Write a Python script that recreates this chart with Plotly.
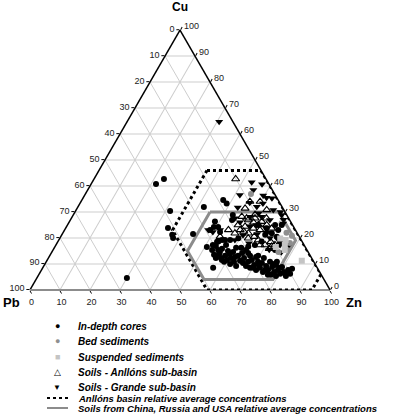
import plotly.graph_objects as go

# ---------------- data (percent of Cu + Pb + Zn) ----------------
# In-depth cores
cores_cu = [42.7, 40.8, 30.4, 23.8, 21.2, 20.0, 21.5, 4.6, 31.9, 8.5, 34.6, 33.3, 26.3,
            24.2, 22.3, 19.2, 18.5, 17.3, 16.5, 23.1, 28.8, 26.9, 24.2, 12.3, 11.5, 15.4,
            25.0, 25.0, 21.8, 23.1, 21.2, 19.2, 19.2, 18.6, 18.6, 15.4, 18.6, 17.3, 16.7,
            19.9, 23.7, 20.5, 25.0, 16.7,
            15.4, 16.9, 13.8, 15.8, 13.1, 15.0, 17.3, 12.3, 14.6, 16.2, 13.1, 11.2, 14.2,
            12.3, 15.4, 10.8, 13.1, 11.5, 9.6, 12.7, 10.8, 8.5, 10.4, 12.3, 9.2, 7.7, 10.8,
            8.8, 6.9, 9.6, 7.7, 6.2, 8.8, 6.9, 5.4, 7.7, 6.2, 6.5, 10.0, 10.8, 9.2, 8.5,
            6.9, 5.8, 9.2, 7.7, 16.2, 10.8, 12.3, 10.8,
            13.5, 11.5, 12.7, 10.4, 8.5, 9.6, 7.7, 10.0, 8.5, 5.4, 5.8, 13.8, 14.2, 13.1,
            14.6, 8.1]
cores_zn = [23.3, 21.6, 31.5, 34.1, 36.8, 37.7, 43.6, 30.0, 42.0, 56.8, 47.1, 48.9, 48.5,
            50.6, 52.2, 54.4, 53.1, 52.3, 50.7, 48.5, 53.2, 53.9, 49.2, 55.8, 58.2, 55.0,
            63.6, 69.2, 69.7, 71.2, 67.8, 57.1, 55.4, 53.5, 74.0, 74.0, 67.9, 66.3, 64.4,
            59.5, 67.0, 72.0, 71.4, 76.7,
            53.0, 53.5, 56.1, 56.1, 58.5, 58.5, 56.7, 60.8, 60.4, 60.6, 62.8, 64.4, 63.6,
            65.2, 64.3, 67.3, 66.8, 68.2, 69.9, 69.0, 70.6, 72.4, 72.1, 71.8, 74.1, 75.5,
            74.6, 76.3, 77.9, 77.2, 78.8, 80.3, 79.6, 81.2, 82.6, 82.2, 83.6, 81.7, 61.7,
            59.3, 64.1, 69.1, 74.2, 77.4, 67.4, 71.5, 62.3, 62.6, 57.5, 76.9,
            54.6, 59.9, 62.0, 65.8, 70.1, 71.5, 74.5, 76.0, 79.1, 79.3, 76.4, 59.7, 65.6,
            69.5, 56.0, 83.3]

# Bed sediments
bed_cu = [36.9, 20.8, 18.1, 15.4, 14.6, 22.0]
bed_zn = [55.2, 76.9, 77.6, 78.0, 75.5, 74.5]

# Suspended sediments
susp_cu = [19.8, 19.2, 17.3, 16.5, 15.4, 11.2]
susp_zn = [73.5, 75.6, 76.3, 73.7, 77.2, 85.0]

# Soils - Anllons sub-basin
anl_cu = [42.7, 34.0, 34.0, 31.4, 30.8, 28.2, 27.6, 27.6, 27.6, 26.9, 26.3, 25.0, 25.0,
          25.0, 24.4, 23.7, 23.7, 23.1, 23.1, 23.1, 21.8, 21.8, 20.5, 19.9, 19.2, 17.3,
          17.3, 17.3, 16.7, 15.9, 29.0, 22.5, 20.5, 26.0, 18.5]
anl_zn = [47.2, 56.3, 59.7, 56.0, 63.5, 56.5, 58.4, 61.2, 65.0, 59.3, 64.1, 56.9, 63.6,
          66.4, 59.5, 62.6, 68.7, 54.6, 58.5, 65.1, 57.4, 61.9, 53.1, 62.8, 66.5, 68.0,
          69.7, 73.0, 72.2, 71.8, 60.5, 60.0, 64.5, 61.5, 71.0]

# Soils - Grande sub-basin
gra_cu = [64.7, 41.4, 40.7, 38.5, 36.5, 36.3, 35.5, 35.3, 33.3, 32.0, 31.7, 30.8, 30.0,
          28.8, 28.2, 28.2, 27.6, 26.9, 25.6, 25.0, 24.0, 23.1, 23.1, 22.3, 22.0, 21.0,
          20.0, 19.2, 19.2, 18.0, 17.3, 16.7, 15.5, 14.5, 26.0, 29.5, 24.5, 21.5, 33.5, 27.0]
gra_zn = [30.7, 53.2, 57.0, 55.2, 51.7, 59.6, 61.1, 63.0, 61.0, 59.6, 53.4, 65.7, 68.5,
          69.5, 63.1, 59.2, 54.5, 66.5, 71.6, 63.0, 66.5, 47.9, 51.8, 49.8, 68.0, 60.5,
          70.0, 58.7, 73.2, 64.0, 74.7, 77.6, 72.0, 76.5, 57.0, 61.5, 61.0, 65.0, 56.5, 71.0]

# Anllons basin relative average concentrations (range polygon)
anl_avg_cu = [46, 46, 6, 0, 0, 23, 46]
anl_avg_zn = [36, 54, 94, 94, 59, 36, 36]

# Soils from China, Russia and USA relative average concentrations (range polygon)
world_cu = [30, 30, 19, 4, 4, 15, 30]
world_zn = [45, 68, 79, 79, 56, 45, 45]

tick_vals = [0, 10, 20, 30, 40, 50, 60, 70, 80, 90, 100]
tick_labels = ["100", "90", "80", "70", "60", "50", "40", "30", "20", "10", "0"]


def pb_of(cu, zn):
    return [round(100 - c - z, 2) for c, z in zip(cu, zn)]


fig = go.Figure()

fig.add_trace(go.Scatterternary(
    a=anl_avg_cu, b=pb_of(anl_avg_cu, anl_avg_zn), c=anl_avg_zn, mode="lines",
    name="Anllóns basin relative average concentrations",
    line=dict(color="black", width=3, dash="dot"), hoverinfo="skip"))
fig.add_trace(go.Scatterternary(
    a=world_cu, b=pb_of(world_cu, world_zn), c=world_zn, mode="lines",
    name="Soils from China, Russia and USA relative average concentrations",
    line=dict(color="#8c8c8c", width=3), hoverinfo="skip"))

fig.add_trace(go.Scatterternary(
    a=cores_cu, b=pb_of(cores_cu, cores_zn), c=cores_zn, mode="markers",
    name="In-depth cores", marker=dict(symbol="circle", size=6, color="black")))
fig.add_trace(go.Scatterternary(
    a=anl_cu, b=pb_of(anl_cu, anl_zn), c=anl_zn, mode="markers",
    name="Soils - Anllóns sub-basin",
    marker=dict(symbol="triangle-up-open", size=7, color="black", line=dict(width=1.1))))
fig.add_trace(go.Scatterternary(
    a=gra_cu, b=pb_of(gra_cu, gra_zn), c=gra_zn, mode="markers",
    name="Soils - Grande sub-basin",
    marker=dict(symbol="triangle-down", size=7, color="black")))
fig.add_trace(go.Scatterternary(
    a=bed_cu, b=pb_of(bed_cu, bed_zn), c=bed_zn, mode="markers",
    name="Bed sediments", marker=dict(symbol="circle", size=6, color="#8f8f8f")))
fig.add_trace(go.Scatterternary(
    a=susp_cu, b=pb_of(susp_cu, susp_zn), c=susp_zn, mode="markers",
    name="Suspended sediments", marker=dict(symbol="square", size=6, color="#c4c4c4")))


def axis(linecolor, linewidth):
    return dict(
        title=dict(text=""), tickmode="array", tickvals=tick_vals, ticktext=tick_labels,
        ticks="outside", ticklen=3, tickwidth=1, tickcolor="black",
        showline=True, linecolor=linecolor, linewidth=linewidth,
        showgrid=True, gridcolor="#cdcdcd", gridwidth=1,
        tickfont=dict(size=9, color="#222222", family="Liberation Sans, Arial"),
        layer="below traces")


fig.update_layout(
    width=396, height=414,
    margin=dict(l=30, r=66, t=30, b=124),
    paper_bgcolor="white",
    showlegend=False,
    font=dict(family="Liberation Sans, Arial", color="black"),
    ternary=dict(sum=100, bgcolor="white",
                 aaxis=axis("black", 1.5),
                 baxis=axis("#8c8c8c", 2),
                 caxis=axis("black", 1.5)),
)


def px(x):
    return (x - 30) / 300.0


def py(y):
    return (290 - y) / 260.0


ann = []
# Vertex titles
ann.append(dict(text="<b>Cu</b>", x=px(180), y=py(7), font=dict(size=12)))
ann.append(dict(text="<b>Pb</b>", x=px(11), y=py(302), font=dict(size=13)))
ann.append(dict(text="<b>Zn</b>", x=px(354), y=py(302), font=dict(size=13)))

# Legend (symbols + labels)
legend_rows = [
    ("●", "black", 9, "In-depth cores", 326),
    ("●", "#8f8f8f", 9, "Bed sediments", 341),
    ("■", "#c4c4c4", 9, "Suspended sediments", 357),
    ("△", "black", 9, "Soils - Anllóns sub-basin", 372),
    ("▼", "black", 8, "Soils - Grande sub-basin", 387),
]
for sym, col, sz, label, yy in legend_rows:
    ann.append(dict(text=sym, x=px(57), y=py(yy), font=dict(size=sz, color=col)))
    ann.append(dict(text="<b><i>" + label + "</i></b>", x=px(76), y=py(yy),
                    xanchor="left", font=dict(size=10)))
ann.append(dict(text="<b><i>Anllóns basin relative average concentrations</i></b>",
                x=px(76), y=py(398), xanchor="left", font=dict(size=9.5)))
ann.append(dict(text="<b><i>Soils from China, Russia and USA relative average concentrations</i></b>",
                x=px(76), y=py(408), xanchor="left", font=dict(size=9.5)))

for a in ann:
    a.update(xref="paper", yref="paper", showarrow=False)
    a.setdefault("xanchor", "center")
    a.setdefault("yanchor", "middle")
fig.update_layout(annotations=ann)

fig.add_shape(type="line", xref="paper", yref="paper", x0=px(47), x1=px(68),
              y0=py(398), y1=py(398), line=dict(color="black", width=2, dash="dot"))
fig.add_shape(type="line", xref="paper", yref="paper", x0=px(47), x1=px(68),
              y0=py(408), y1=py(408), line=dict(color="#8c8c8c", width=2))

# remove the default 8 px page margin so the figure sits at the window's corner
fig.write_html("out.html", config={"displayModeBar": False},
               post_script="document.body.style.margin='0';")
